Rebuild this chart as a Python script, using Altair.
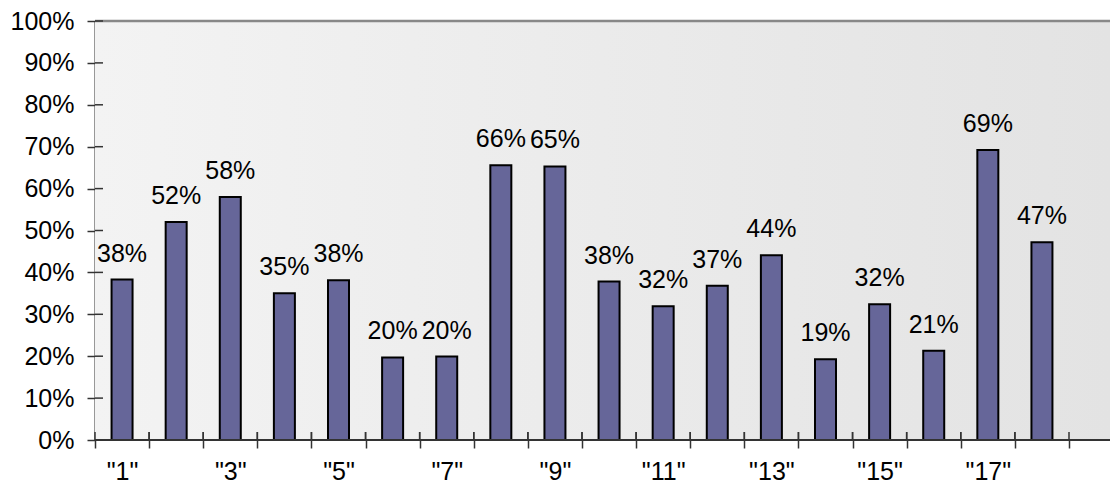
import altair as alt
import pandas as pd

categories = [str(i) for i in range(1, 19)]
values = [0.383, 0.52, 0.58, 0.35, 0.381, 0.197, 0.199, 0.656, 0.653,
          0.378, 0.319, 0.368, 0.441, 0.193, 0.324, 0.213, 0.692, 0.472]
y_ticks = [0.0, 0.1, 0.2, 0.3, 0.4, 0.5, 0.6, 0.7, 0.8, 0.9, 1.0]

W = 1015
H = 419
FONT = "Liberation Sans"
AX = "#333333"

df = pd.DataFrame({"cat": categories, "value": values})

xscale = alt.Scale(domain=categories, range=[0, 974], paddingInner=0, paddingOuter=0)
yscale = alt.Scale(domain=[0, 1])

x_axis = alt.Axis(
    title=None, domain=False, ticks=True, tickBand="extent", tickSize=8,
    tickColor=AX, tickWidth=1.5, labelFontSize=25, labelFont=FONT,
    labelColor="black", labelPadding=11, labelAngle=0, labelOverlap=False,
    labelExpr="toNumber(datum.value) % 2 == 1 ? '\"' + datum.value + '\"' : ''",
    grid=False,
)
y_axis = alt.Axis(
    title=None, values=y_ticks, format=".0%", domain=True, domainColor=AX,
    domainWidth=2, tickSize=8, tickColor=AX, tickWidth=1.5, labelFontSize=25,
    labelFont=FONT, labelColor="black", labelPadding=13, grid=False,
)

bg = alt.Chart(pd.DataFrame({"a": [0]})).mark_rect(
    color=alt.Gradient(
        gradient="linear",
        stops=[alt.GradientStop(color="#f3f3f3", offset=0),
               alt.GradientStop(color="#e3e3e3", offset=1)],
        x1=0, x2=1, y1=0, y2=0,
    )
).encode(x=alt.value(0), x2=alt.value(W), y=alt.value(0), y2=alt.value(H))

bars = alt.Chart(df).mark_bar(
    size=21, color="#666699", stroke="black", strokeWidth=2
).encode(
    x=alt.X("cat:N", scale=xscale, sort=categories, axis=x_axis),
    y=alt.Y("value:Q", scale=yscale, axis=y_axis),
)

labels = alt.Chart(df).mark_text(
    fontSize=25, font=FONT, baseline="alphabetic", dy=-18, color="black"
).encode(
    x=alt.X("cat:N", scale=xscale, sort=categories),
    y=alt.Y("value:Q", scale=yscale),
    text=alt.Text("value:Q", format=".0%"),
)

top_rule = alt.Chart(pd.DataFrame({"a": [0]})).mark_rule(
    color="#888888", strokeWidth=2.5
).encode(x=alt.value(0), x2=alt.value(W), y=alt.value(0))

bottom_rule = alt.Chart(pd.DataFrame({"a": [0]})).mark_rule(
    color=AX, strokeWidth=2
).encode(x=alt.value(0), x2=alt.value(W), y=alt.value(H))

y_inner = alt.Chart(pd.DataFrame({"value": y_ticks})).mark_rule(
    color=AX, strokeWidth=1.5
).encode(x=alt.value(0), x2=alt.value(8), y=alt.Y("value:Q", scale=yscale))

x_inner_a = alt.Chart(df).mark_rule(color=AX, strokeWidth=1.5).encode(
    x=alt.X("cat:N", scale=xscale, sort=categories, bandPosition=0),
    y=alt.value(H - 8), y2=alt.value(H),
)
x_inner_b = alt.Chart(df).mark_rule(color=AX, strokeWidth=1.5).encode(
    x=alt.X("cat:N", scale=xscale, sort=categories, bandPosition=1),
    y=alt.value(H - 8), y2=alt.value(H),
)

chart = alt.layer(
    bg, bars, labels, top_rule, bottom_rule, y_inner, x_inner_a, x_inner_b
).properties(
    width=W, height=H,
    autosize=alt.AutoSizeParams(type="none"),
    padding={"left": 87, "top": 13, "right": 0, "bottom": 44},
).configure_view(stroke=None)

chart.save("out.html", embed_options={"renderer": "svg", "actions": False})
